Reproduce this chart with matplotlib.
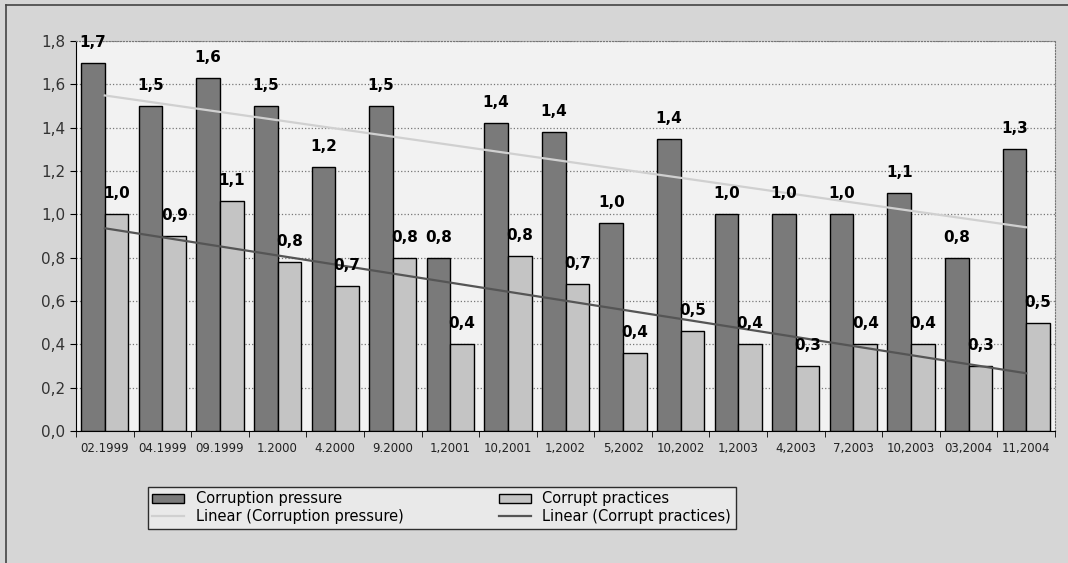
import matplotlib
matplotlib.use('Agg')
import matplotlib.pyplot as plt
from matplotlib.lines import Line2D
from matplotlib.patches import Patch
import numpy as np

# Daten
periods = ['02.1999', '04.1999', '09.1999', '1.2000', '4.2000', '9.2000',
           '1,2001', '10,2001', '1,2002', '5,2002', '10,2002', '1,2003',
           '4,2003', '7,2003', '10,2003', '03,2004', '11,2004']
pressure = [1.70, 1.50, 1.63, 1.50, 1.22, 1.50, 0.80, 1.42, 1.38, 0.96,
            1.35, 1.00, 1.00, 1.00, 1.10, 0.80, 1.30]
practices = [1.00, 0.90, 1.06, 0.78, 0.67, 0.80, 0.40, 0.81, 0.68, 0.36,
             0.46, 0.40, 0.30, 0.40, 0.40, 0.30, 0.50]
pressure_lbl = ['1,7', '1,5', '1,6', '1,5', '1,2', '1,5', '0,8', '1,4', '1,4',
                '1,0', '1,4', '1,0', '1,0', '1,0', '1,1', '0,8', '1,3']
practices_lbl = ['1,0', '0,9', '1,1', '0,8', '0,7', '0,8', '0,4', '0,8', '0,7',
                 '0,4', '0,5', '0,4', '0,3', '0,4', '0,4', '0,3', '0,5']

fig = plt.figure(figsize=(10.68, 5.63), dpi=100, facecolor='#d6d6d6')
ax = fig.add_axes([0.0712, 0.2345, 0.9166, 0.6925])
ax.set_facecolor('#f2f2f2')

x = np.arange(len(periods))
w = 0.41
ax.bar(x - w / 2, pressure, w, color='#7a7a7a', edgecolor='black', linewidth=1, zorder=3)
ax.bar(x + w / 2, practices, w, color='#c4c4c4', edgecolor='black', linewidth=1, zorder=3)

# lineare Trends
for vals, col in [(pressure, '#d0d0d0'), (practices, '#555555')]:
    k, d = np.polyfit(x, vals, 1)
    ax.plot(x, k * x + d, color=col, linewidth=1.6, zorder=4)

for i in range(len(x)):
    ax.text(x[i] - w / 2, pressure[i] + 0.06, pressure_lbl[i], ha='center', va='bottom',
            fontsize=11, fontweight='bold', zorder=5)
    ax.text(x[i] + w / 2, practices[i] + 0.06, practices_lbl[i], ha='center', va='bottom',
            fontsize=11, fontweight='bold', zorder=5)

ax.set_xlim(-0.5, len(x) - 0.5)
ax.set_ylim(0, 1.8)
ax.set_yticks(np.arange(0, 1.81, 0.2))
ax.set_yticklabels([f'{v:.1f}'.replace('.', ',') for v in np.arange(0, 1.81, 0.2)],
                   fontsize=11, color='#333333')
ax.set_xticks(x)
ax.set_xticklabels(periods, fontsize=8.5, color='#222222')
ax.set_xticks(np.arange(-0.5, len(x), 1), minor=True)
ax.tick_params(axis='x', which='major', length=0, pad=8)
ax.tick_params(axis='x', which='minor', length=4, direction='out')
ax.tick_params(axis='y', length=4, direction='out')

ax.grid(axis='y', linestyle=':', color='#777777', linewidth=0.9, zorder=0)
ax.spines['left'].set_color('black')
ax.spines['bottom'].set_color('black')
for s in ['top', 'right']:
    ax.spines[s].set_linestyle(':')
    ax.spines[s].set_color('#777777')

handles = [Patch(facecolor='#7a7a7a', edgecolor='black', label='Corruption pressure'),
           Line2D([], [], color='#d0d0d0', linewidth=1.6, label='Linear (Corruption pressure)'),
           Patch(facecolor='#c4c4c4', edgecolor='black', label='Corrupt practices'),
           Line2D([], [], color='#555555', linewidth=1.6, label='Linear (Corrupt practices)')]
leg = fig.legend(handles=handles, ncol=2, loc='upper left',
                 bbox_to_anchor=(148 / 1068, 1 - 487 / 563), borderaxespad=0,
                 frameon=True, fontsize=10.5,
                 handlelength=2.2, handleheight=0.6, labelspacing=0.2,
                 columnspacing=6.5, borderpad=0.3, fancybox=False)
leg.get_frame().set_edgecolor('black')
leg.get_frame().set_facecolor('#eeeeee')
leg.get_frame().set_linewidth(1)
leg._legend_box.align = 'left'

# Rahmen oben/links
fig.add_artist(Line2D([6 / 1068, 1], [1 - 5 / 563, 1 - 5 / 563], color='#444444', linewidth=1.2))
fig.add_artist(Line2D([6 / 1068, 6 / 1068], [0, 1 - 5 / 563], color='#444444', linewidth=1.2))

fig.savefig('out.png', dpi=100, facecolor=fig.get_facecolor())
